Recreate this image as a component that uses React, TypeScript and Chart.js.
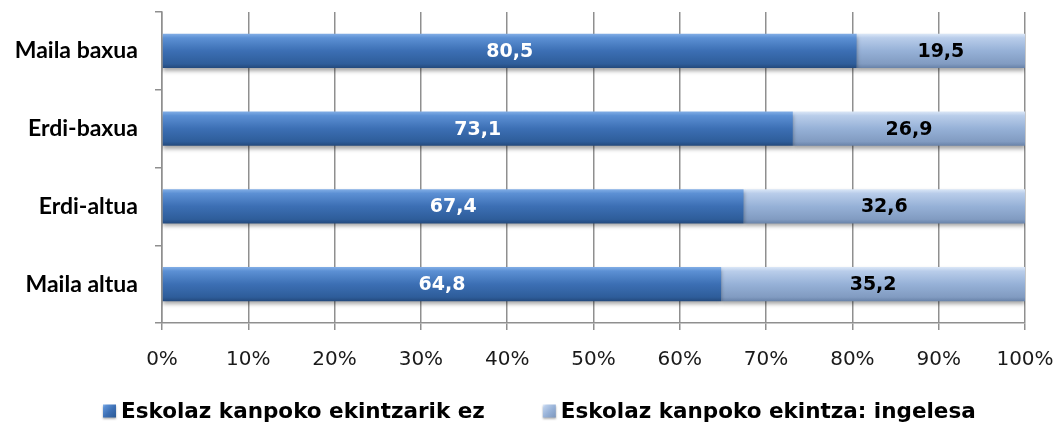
import React, { useEffect, useRef } from 'react';
import { Chart, registerables } from 'chart.js';

Chart.register(...registerables);

const categories = ['Maila baxua', 'Erdi-baxua', 'Erdi-altua', 'Maila altua'];
const seriesNames = ['Eskolaz kanpoko ekintzarik ez', 'Eskolaz kanpoko ekintza: ingelesa'];
const noActivity = [80.5, 73.1, 67.4, 64.8];
const english = [19.5, 26.9, 32.6, 35.2];
const xMin = 0;
const xMax = 100;
const xStep = 10;

const BAR_PCT = 0.44;

const darkStops: [number, string][] = [
  [0, '#82aee6'],
  [0.12, '#5c90d4'],
  [0.5, '#3c6fb4'],
  [0.88, '#2e5d9a'],
  [1, '#23497c'],
];
const lightStops: [number, string][] = [
  [0, '#dbe7f7'],
  [0.12, '#b9cdea'],
  [0.5, '#96b1d7'],
  [0.88, '#819bc1'],
  [1, '#6882a8'],
];
const solids = ['#3c6fb4', '#96b1d7'];

function makeGradient(stops: [number, string][], solid: string) {
  return (ctx: any) => {
    if (ctx.type !== 'data') return solid;
    const chart = ctx.chart;
    const y = chart.scales && chart.scales.y;
    if (!chart.chartArea || !y) return solid;
    const c = y.getPixelForValue(ctx.dataIndex);
    const band = (y.bottom - y.top) / categories.length;
    const h = (band * BAR_PCT) / 2;
    const g = chart.ctx.createLinearGradient(0, c - h, 0, c + h);
    stops.forEach(([o, col]) => g.addColorStop(o, col));
    return g;
  };
}

const barPlugin = {
  id: 'barDecor',
  beforeDatasetsDraw(chart: any) {
    const c = chart.ctx;
    c.save();
    c.shadowColor = 'rgba(0,0,0,0.35)';
    c.shadowBlur = 4;
    c.shadowOffsetX = 0;
    c.shadowOffsetY = 3;
  },
  afterDatasetsDraw(chart: any) {
    const c = chart.ctx;
    c.restore();
    c.save();
    c.font = 'bold 19px "DejaVu Sans"';
    c.textAlign = 'center';
    c.textBaseline = 'middle';
    chart.data.datasets.forEach((ds: any, di: number) => {
      const meta = chart.getDatasetMeta(di);
      c.fillStyle = di === 0 ? '#ffffff' : '#000000';
      meta.data.forEach((el: any, i: number) => {
        const v = ds.data[i];
        const x = (el.x + el.base) / 2;
        c.fillText(v.toFixed(1).replace('.', ','), x, el.y + 1);
      });
    });
    c.restore();
  },
};

const legendPlugin = {
  id: 'customLegend',
  afterDraw(chart: any) {
    const c = chart.ctx;
    const area = chart.chartArea;
    c.save();
    c.font = 'bold 21.5px "DejaVu Sans"';
    c.textBaseline = 'middle';
    c.textAlign = 'left';
    const box = 13;
    const gapBoxText = 5;
    const gapItems = 58;
    const names = chart.data.datasets.map((d: any) => d.label);
    const widths = names.map((n: string) => c.measureText(n).width);
    let x = area.left - 59;
    const y = 412;
    names.forEach((n: string, i: number) => {
      const stops = i === 0 ? darkStops : lightStops;
      const g = c.createLinearGradient(x, y - box / 2, x + box, y + box / 2);
      stops.forEach(([o, col]) => g.addColorStop(o, col));
      c.fillStyle = g;
      c.shadowColor = 'rgba(0,0,0,0.3)';
      c.shadowBlur = 2;
      c.shadowOffsetY = 1;
      c.fillRect(x, y - box / 2 - 1, box, box);
      c.shadowColor = 'transparent';
      c.fillStyle = '#000';
      c.fillText(n, x + box + gapBoxText, y);
      x += box + gapBoxText + widths[i] + gapItems;
    });
    c.restore();
  },
};

export default function App() {
  const ref = useRef<HTMLCanvasElement>(null);
  useEffect(() => {
    if (!ref.current) return;
    const chart = new Chart(ref.current, {
      type: 'bar',
      data: {
        labels: categories,
        datasets: [
          {
            label: seriesNames[0],
            data: noActivity,
            backgroundColor: makeGradient(darkStops, solids[0]),
            borderWidth: 0,
            barPercentage: BAR_PCT,
            categoryPercentage: 1,
          },
          {
            label: seriesNames[1],
            data: english,
            backgroundColor: makeGradient(lightStops, solids[1]),
            borderWidth: 0,
            barPercentage: BAR_PCT,
            categoryPercentage: 1,
          },
        ],
      },
      options: {
        indexAxis: 'y',
        animation: false,
        responsive: false,
        layout: { padding: { top: 12, right: 38, bottom: 0, left: 0 } },
        plugins: {
          tooltip: { enabled: false },
          legend: { display: false },
        },
        scales: {
          x: {
            stacked: true,
            min: xMin,
            max: xMax,
            ticks: {
              stepSize: xStep,
              callback: (v: any) => v + '%',
              color: '#1a1a1a',
              font: { family: '"DejaVu Sans"', size: 20 },
              padding: 18,
              maxRotation: 0,
            },
            grid: { color: '#8f8f8f', lineWidth: 1.5, tickLength: 7 },
            border: { display: true, color: '#8f8f8f', width: 1.5 },
            afterFit: (s: any) => {
              s.height = 107;
              s.paddingLeft = 0;
              s.paddingRight = 0;
            },
          },
          y: {
            stacked: true,
            ticks: {
              color: '#000',
              font: { family: 'Lato', size: 23, weight: 'bold' },
              padding: 17,
            },
            grid: {
              color: '#8f8f8f',
              lineWidth: 1.5,
              drawOnChartArea: false,
              tickLength: 7,
            },
            border: { display: true, color: '#8f8f8f', width: 1.5 },
            afterFit: (s: any) => {
              s.width = 162;
              s.paddingTop = 0;
              s.paddingBottom = 0;
            },
          },
        },
      },
      plugins: [barPlugin, legendPlugin],
    });
    return () => chart.destroy();
  }, []);
  return (
    <div style={{ position: 'fixed', left: 0, top: 0, width: 1063, height: 430, background: '#fff' }}>
      <canvas ref={ref} width={1063} height={430} />
    </div>
  );
}
